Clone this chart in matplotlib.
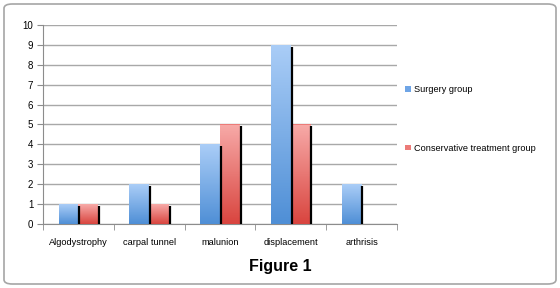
import numpy as np
import matplotlib
matplotlib.use("Agg")
import matplotlib.pyplot as plt
from matplotlib.patches import FancyBboxPatch
from matplotlib.colors import LinearSegmentedColormap

## donnees
categories = ["Algodystrophy", "carpal tunnel", "malunion", "displacement", "arthrisis"]
surgery = [1, 2, 4, 9, 2]
conservative = [1, 1, 5, 5, 0]
series_names = ["Surgery group", "Conservative treatment group"]

## figure
fig = plt.figure(figsize=(5.6, 2.88), dpi=100)
ax = fig.add_axes([43/560, 1 - 224/288, (397 - 43)/560, (224 - 25)/288])

# cadre arrondi
cadre = FancyBboxPatch((4/560, 4/288), 552/560, 280/288,
                       boxstyle="round,pad=0,rounding_size=0.015",
                       transform=fig.transFigure, facecolor="white",
                       edgecolor="#a6a6a6", linewidth=1.2, zorder=-10)
fig.patches.append(cadre)

cmap_b = LinearSegmentedColormap.from_list("b", ["#4f8fd6", "#aacdf7"])
cmap_r = LinearSegmentedColormap.from_list("r", ["#d9453f", "#f7aaa8"])

x = np.arange(len(categories))
w = 0.28

def barres_degrade(pos, vals, cmap, label, col):
    bars = ax.bar(pos, vals, w, color=col, label=label, zorder=2)
    for b, v in zip(bars, vals):
        if v <= 0:
            continue
        x0, y0 = b.get_x(), b.get_y()
        x1, y1 = x0 + b.get_width(), y0 + b.get_height()
        grad = np.linspace(0, 1, 100).reshape(-1, 1)
        im = ax.imshow(grad, extent=[x0, x1, y0, y1], origin="lower",
                       cmap=cmap, aspect="auto", zorder=3)
        im.set_clip_path(b)
        # ombre noire a droite
        ax.vlines(x1 + 0.012, 0, v - 0.1, color="black", linewidth=1.6, zorder=4)
    return bars

barres_degrade(x - w/2, surgery, cmap_b, series_names[0], "#6fa5e6")
barres_degrade(x + w/2, conservative, cmap_r, series_names[1], "#ec7b78")

ax.set_xlim(-0.5, len(categories) - 0.5)
ax.set_ylim(0, 10)
ax.set_yticks(range(0, 11))
ax.set_xticks(x)
ax.set_xticklabels(categories, fontsize=6.7, family="Liberation Sans")
for t in ax.get_yticklabels():
    t.set_fontsize(7)
    t.set_family("Liberation Sans")
ax.tick_params(axis="x", length=0, pad=10)
ax.tick_params(axis="y", length=4, color="#8c8c8c", pad=3)
ax.set_xticks(np.arange(-0.5, len(categories)), minor=True)
ax.tick_params(axis="x", which="minor", length=4, color="#8c8c8c")

ax.grid(axis="y", color="#a8a8a8", linewidth=1)
ax.set_axisbelow(True)
for s in ["top", "right"]:
    ax.spines[s].set_visible(False)
ax.spines["left"].set_color("#8c8c8c")
ax.spines["bottom"].set_color("#8c8c8c")
ax.set_facecolor("none")

# legende
h, l = ax.get_legend_handles_labels()
leg = fig.legend(h, l, loc="upper left", bbox_to_anchor=(397/560, 1 - 77/288),
                 frameon=False, handlelength=0.6, handleheight=0.6,
                 labelspacing=5.4, handletextpad=0.4,
                 prop={"family": "Liberation Sans", "size": 6.6})

fig.text(0.5, 1 - 267/288, "Figure 1", ha="center", va="center",
         fontsize=11.5, fontweight="bold", family="Liberation Sans")

fig.savefig("out.png", dpi=100)
